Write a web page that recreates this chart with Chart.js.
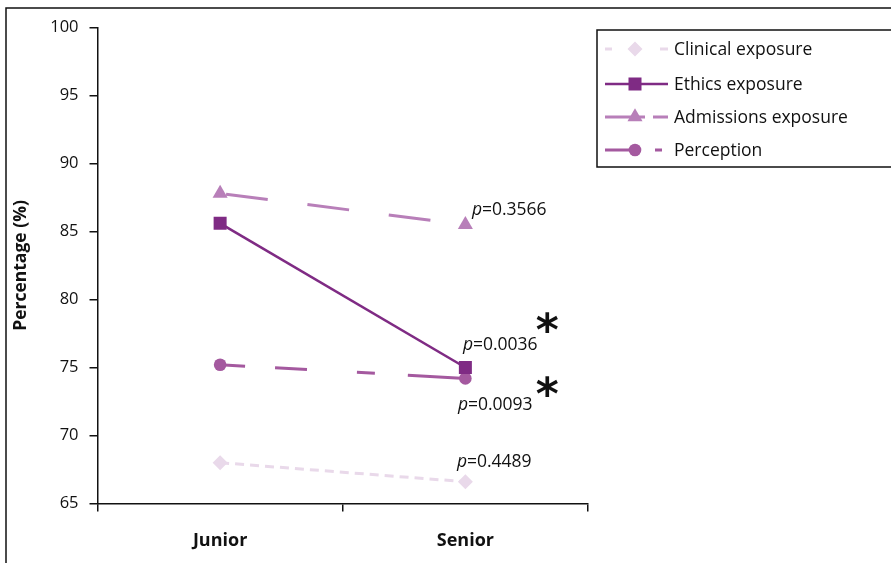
<!DOCTYPE html>
<html>
<head>
<meta charset="utf-8">
<script src="https://cdn.jsdelivr.net/npm/chart.js@4/dist/chart.umd.min.js"></script>
<style>
  html, body { margin: 0; padding: 0; background: #ffffff; }
  #wrap { position: relative; width: 891px; height: 563px; }
</style>
</head>
<body>
<div id="wrap"><canvas id="chart" width="891" height="563"></canvas></div>
<script>
// ---- data ----
const categories = ['Junior', 'Senior'];
const seriesNames = ['Clinical exposure', 'Ethics exposure', 'Admissions exposure', 'Perception'];
const clinicalExposure = [68.0, 66.6];
const ethicsExposure = [85.6, 75.0];
const admissionsExposure = [87.8, 85.5];
const perception = [75.2, 74.2];
const pValues = ['0.4489', '0.0036', '0.3566', '0.0093'];
const significant = [false, true, false, true];
const yMin = 65, yMax = 100, yStep = 5;

// ---- styles ----
const FONT = '"Open Sans", "Noto Sans", sans-serif';
const styles = [
  { color: '#e9d9ea', width: 3, dash: [9, 6], dashOffset: 0, point: 'rectRot', radius: 7.5, legendDash: [7, 48, 8, 100] },
  { color: '#7f2b84', width: 2.6, dash: [], dashOffset: 0, point: 'rect', radius: 9.2, legendDash: [] },
  { color: '#b87fb9', width: 3, dash: [42, 40], dashOffset: -6, point: 'triangle', radius: 8.7, legendDash: [40, 8, 15, 100] },
  { color: '#a4599f', width: 3, dash: [25, 30, 32, 50, 18, 33, 60, 40], dashOffset: 0, point: 'circle', radius: 6.3, legendDash: [27, 23, 7, 100] }
];
// label placement relative to the Senior point of each series
const labelOffsets = [
  { dx: -8.5, dy: -15, sx: 0, sy: 0 },
  { dx: -2.5, dy: -18, sx: 82, sy: -45 },
  { dx: 6.5, dy: -10, sx: 0, sy: 0 },
  { dx: -7.5, dy: 32, sx: 82, sy: 8 }
];

const seriesValues = [clinicalExposure, ethicsExposure, admissionsExposure, perception];

const datasets = seriesValues.map((vals, i) => ({
  label: seriesNames[i],
  data: vals,
  borderColor: styles[i].color,
  backgroundColor: styles[i].color,
  borderWidth: styles[i].width,
  borderDash: styles[i].dash,
  borderDashOffset: styles[i].dashOffset,
  pointStyle: styles[i].point,
  pointRadius: styles[i].radius,
  pointHoverRadius: styles[i].radius,
  pointBorderWidth: 0,
  pointBackgroundColor: styles[i].color,
  tension: 0,
  fill: false
}));

// outer frame lines
const framePlugin = {
  id: 'frame',
  beforeDraw(chart) {
    const ctx = chart.ctx;
    ctx.save();
    ctx.strokeStyle = '#111111';
    ctx.lineWidth = 1.5;
    ctx.beginPath();
    ctx.moveTo(6, 563);
    ctx.lineTo(6, 8);
    ctx.lineTo(891, 8);
    ctx.stroke();
    ctx.restore();
  }
};

// p-value labels and significance marks
const pLabelPlugin = {
  id: 'pLabels',
  afterDatasetsDraw(chart) {
    const ctx = chart.ctx;
    ctx.save();
    ctx.fillStyle = '#111111';
    ctx.textBaseline = 'alphabetic';
    pValues.forEach((pv, i) => {
      const pt = chart.getDatasetMeta(i).data[1];
      const off = labelOffsets[i];
      const x = pt.x + off.dx, y = pt.y + off.dy;
      ctx.font = 'italic 17.5px ' + FONT;
      ctx.textAlign = 'left';
      ctx.fillText('p', x, y);
      const w = ctx.measureText('p').width;
      ctx.font = '17.5px ' + FONT;
      ctx.fillText('=' + pv, x + w, y);
      if (significant[i]) {
        ctx.font = 'bold 44px "DejaVu Sans", sans-serif';
        const m = ctx.measureText('*');
        const cx = pt.x + off.sx, cy = pt.y + off.sy;
        ctx.textAlign = 'center';
        ctx.fillText('*', cx, cy + (m.actualBoundingBoxAscent - m.actualBoundingBoxDescent) / 2);
      }
    });
    ctx.restore();
  }
};

// boxed legend with line samples
const legendPlugin = {
  id: 'boxLegend',
  afterDraw(chart) {
    const ctx = chart.ctx;
    ctx.save();
    ctx.strokeStyle = '#111111';
    ctx.lineWidth = 1.5;
    ctx.beginPath();
    ctx.moveTo(897, 30);
    ctx.lineTo(597, 30);
    ctx.lineTo(597, 167);
    ctx.lineTo(897, 167);
    ctx.stroke();
    const rows = [49, 84, 117, 150];
    seriesNames.forEach((name, i) => {
      const st = styles[i];
      const y = rows[i];
      ctx.strokeStyle = st.color;
      ctx.lineWidth = st.width;
      ctx.setLineDash(st.legendDash);
      ctx.beginPath();
      ctx.moveTo(605, y);
      ctx.lineTo(668, y);
      ctx.stroke();
      ctx.setLineDash([]);
      ctx.fillStyle = st.color;
      Chart.helpers.drawPoint(ctx, { pointStyle: st.point, radius: st.radius, borderWidth: 0 }, 635, y);
      ctx.fillStyle = '#111111';
      ctx.font = '17.5px ' + FONT;
      ctx.textAlign = 'left';
      ctx.textBaseline = 'middle';
      ctx.fillText(name, 674, y + 1);
    });
    ctx.restore();
  }
};

new Chart(document.getElementById('chart'), {
  type: 'line',
  data: { labels: categories, datasets },
  plugins: [framePlugin, pLabelPlugin, legendPlugin],
  options: {
    responsive: false,
    animation: false,
    events: [],
    layout: { padding: { left: 6, top: 27.5, right: 303, bottom: 0 } },
    plugins: {
      legend: { display: false },
      tooltip: { enabled: false },
      title: { display: false }
    },
    scales: {
      x: {
        type: 'category',
        offset: true,
        grid: { display: true, offset: true, drawOnChartArea: false, drawTicks: true, tickLength: 8, color: '#111111', lineWidth: 1.5 },
        border: { display: true, color: '#111111', width: 1.5 },
        ticks: { color: '#111111', padding: 19, font: { family: FONT, size: 18, weight: 'bold' } },
        afterFit(s) { s.height = 59.5; }
      },
      y: {
        min: yMin,
        max: yMax,
        grid: { display: true, drawOnChartArea: false, drawTicks: true, tickLength: 8, color: '#111111', lineWidth: 1.5 },
        border: { display: true, color: '#111111', width: 1.5 },
        ticks: { stepSize: yStep, color: '#111111', padding: 11, font: { family: FONT, size: 16.5 } },
        title: { display: true, text: 'Percentage (%)', color: '#111111', padding: { top: 5, bottom: 0 }, font: { family: FONT, size: 17.5, weight: 'bold' } },
        afterFit(s) { s.width = 91.5; }
      }
    }
  }
});
</script>
</body>
</html>
